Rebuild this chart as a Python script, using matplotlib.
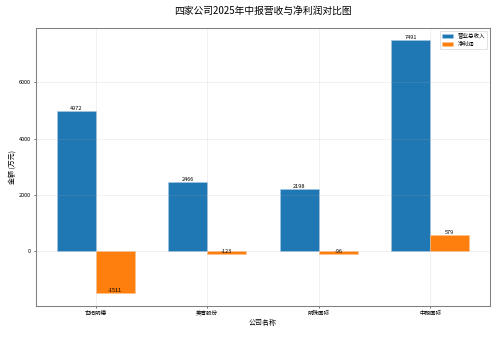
import numpy as np
import matplotlib
matplotlib.use('Agg')
import matplotlib.pyplot as plt

plt.rcParams['font.family'] = ['Noto Sans CJK SC', 'DejaVu Sans']
plt.rcParams['axes.unicode_minus'] = False

companies = ['世纪明德', '美育股份', '明珠国际', '中朗国际']
revenue = [4972, 2466, 2198, 7491]
profit = [-1511, -123, -96, 579]

x = np.arange(len(companies))
width = 0.35

fig, ax = plt.subplots(figsize=(10, 7.14), dpi=50)
b1 = ax.bar(x - width / 2, revenue, width, label='营业总收入', color='#1f77b4',
            edgecolor='#a6cbe6', linewidth=0.8)
b2 = ax.bar(x + width / 2, profit, width, label='净利润', color='#ff7f0e',
            edgecolor='#ffc48f', linewidth=0.8)

for bars in (b1, b2):
    for b in bars:
        h = b.get_height()
        ax.text(b.get_x() + b.get_width() / 2, h, f'{int(h)}',
                ha='center', va='bottom', fontsize=8)

ax.set_xticks(x)
ax.set_xticklabels(companies, fontsize=8)
ax.tick_params(axis='y', labelsize=8)
ax.set_xlabel('公司名称', fontsize=10)
ax.set_ylabel('金额 (万元)', fontsize=10)
ax.set_title('四家公司2025年中报营收与净利润对比图', fontsize=14, pad=20)
ax.legend(fontsize=8, loc='upper right')
ax.grid(True, alpha=0.3)
for s in ax.spines.values():
    s.set_color('grey')
    s.set_linewidth(1.5)

fig.subplots_adjust(left=0.072, right=0.98, top=0.922, bottom=0.143)
fig.savefig('out.png')
